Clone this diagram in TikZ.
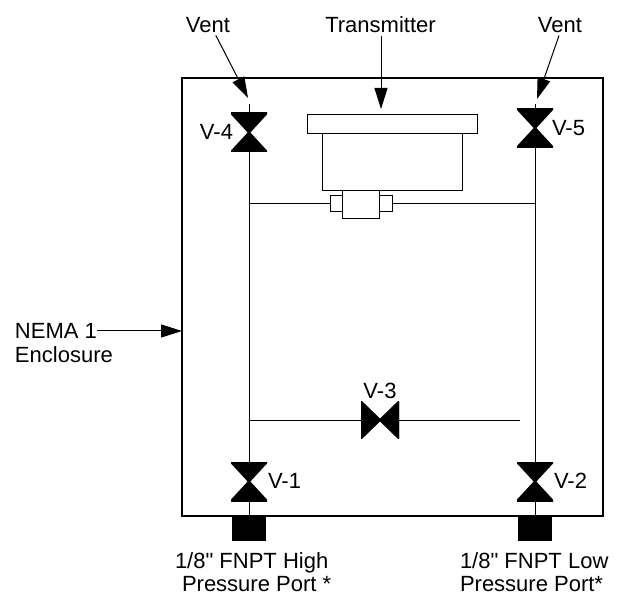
\documentclass[tikz,border=0pt]{standalone}
\usepackage{fontspec}
\setmainfont{Liberation Sans}[Ligatures=TeXOff]
\usetikzlibrary{arrows.meta,positioning}
\newcommand{\myPipeWidth}{1pt}

\begin{document}
\begin{tikzpicture}[x=1pt,y=1pt,>={Triangle[length=21pt,width=13pt]},
	Pipe/.style={black,line width=\myPipeWidth},
	Edge/.style={->,black,line width=\myPipeWidth,shorten <=3pt},
	Part/.style={rectangle,draw=black,line width=\myPipeWidth,inner sep=0pt,outer sep=0pt},
	Port/.style={rectangle,fill=black,inner sep=0pt,outer sep=0pt,minimum width=34pt,minimum height=25pt},
	Valve/.style={rectangle,inner sep=0pt,outer sep=0pt,minimum width=36pt,minimum height=39pt,
		path picture={\filldraw[black,line width=2pt] (path picture bounding box.north west) -- (path picture bounding box.south east)
			-- (path picture bounding box.south west) -- (path picture bounding box.north east) -- cycle;}},
	ValveSide/.style={rectangle,inner sep=0pt,outer sep=0pt,minimum width=38pt,minimum height=37pt,
		path picture={\filldraw[black,line width=2pt] (path picture bounding box.north west) -- (path picture bounding box.south west)
			-- (path picture bounding box.north east) -- (path picture bounding box.south east) -- cycle;}},
	Label/.style={inner sep=0pt,outer sep=0pt,align=left,font=\fontsize{22}{23}\selectfont},
]
	\useasboundingbox (0,0) rectangle (619,-596);

	% enclosure and transmitter
	\node[Part,line width=2pt,minimum width=421pt,minimum height=438pt] (Encl) at (392.5,-297){};
	\node[Part,minimum width=170pt,minimum height=19pt] (Flange) at (392,-124.5){};
	\node[Part,minimum width=140pt,minimum height=57pt] (Body)[below of= Flange, node distance=38pt]{};
	\node[Part,minimum width=37pt,minimum height=28pt] (Block) at (360.5,-205){};
	\node[Part,minimum width=12pt,minimum height=16pt] (TabL) at (336,-203.5){};
	\node[Part,minimum width=13pt,minimum height=16pt] (TabR) at (385.5,-203.5){};

	% valves and ports
	\node[Valve] (V4) at (249,-132.5){};
	\node[Valve] (V5) at (535,-128){};
	\node[Valve] (V1)[below of= V4, node distance=349pt]{};
	\node[Valve] (V2)[right of= V1, node distance=286pt]{};
	\node[ValveSide] (V3) at (380,-420){};
	\node[Port] (PortL)[below of= V1, node distance=47pt]{};
	\node[Port] (PortR)[below of= V2, node distance=47pt]{};

	% labels
	\node[Label] (VentL) at (208,-25){Vent};
	\node[Label] (VentR) at (560,-25){Vent};
	\node[Label] (Trans) at (380.5,-25){Transmitter};
	\node[Label,anchor=east] (LblV4) at (233,-132){V-4};
	\node[Label,anchor=west] (LblV5) at (552,-128){V-5};
	\node[Label,anchor=west] (LblV1) at (268,-481){V-1};
	\node[Label,anchor=west] (LblV2) at (554,-481){V-2};
	\node[Label] (LblV3) at (380,-391){V-3};
	\node[Label,anchor=west] (Nema) at (15,-331){NEMA 1};
	\node[Label,anchor=west] (NemaB) at (15,-355){Enclosure};
	\node[Label,anchor=west] (LblHigh) at (175,-572){1/8" FNPT High\\\hspace*{7pt}Pressure Port *};
	\node[Label,anchor=west] (LblLow) at (460,-572.5){1/8" FNPT Low\\Pressure Port*};

	% free ends
	\coordinate (TipVentL) at (248,-98);
	\coordinate (TipVentR) at (537,-99);
	\coordinate (TipTrans) at (381,-109);
	\coordinate (StubV4) at (249,-104);
	\coordinate (StubV5) at (535,-104);
	\coordinate (TeeL) at (249,-203.5);
	\coordinate (TeeR) at (535,-203.5);
	\coordinate (TieL) at (249,-420);
	\coordinate (TieR) at (520,-420);

	\path[Pipe]
	(StubV4) edge (V4)
	(StubV5) edge (V5)
	(V4) edge (V1)
	(V5) edge (V2)
	(V1) edge (PortL)
	(V2) edge (PortR)
	(TeeL) edge (TabL)
	(TabR) edge (TeeR)
	(TieL) edge (V3)
	(V3) edge (TieR)
	;
	\path[Edge]
	(VentL.-50) edge (TipVentL)
	(VentR.south) edge (TipVentR)
	(Trans.south -| TipTrans) edge (TipTrans)
	(Nema) edge[shorten <=0pt] (Nema -| Encl.west)
	;
\end{tikzpicture}
\end{document}
